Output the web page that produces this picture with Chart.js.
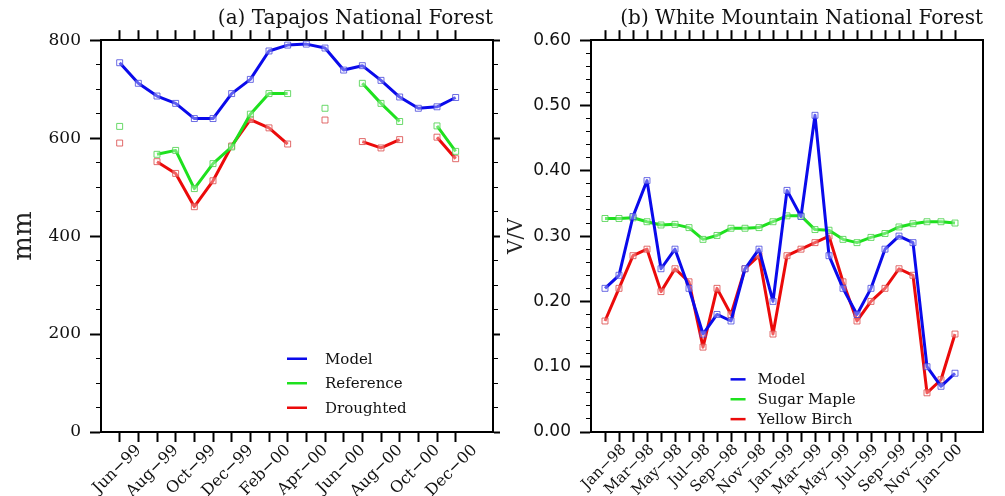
<!DOCTYPE html>
<html>
<head>
<meta charset="utf-8">
<script src="https://cdn.jsdelivr.net/npm/chart.js@4.4.0/dist/chart.umd.min.js"></script>
<style>
  html, body { margin: 0; padding: 0; background: #fff; }
  #wrap { position: relative; width: 1005px; height: 496px; overflow: hidden; }
  canvas { position: absolute; top: 0; }
  #chart-a { left: 0; }
  #chart-b { left: 495px; }
</style>
</head>
<body>
<div id="wrap">
  <canvas id="chart-a" width="505" height="496"></canvas>
  <canvas id="chart-b" width="510" height="496"></canvas>
</div>
<script>
// (a) Tapajos, monthly, mm
const monthsA = ['Jun-99', 'Jul-99', 'Aug-99', 'Sep-99', 'Oct-99', 'Nov-99', 'Dec-99', 'Jan-00', 'Feb-00', 'Mar-00',
  'Apr-00', 'May-00', 'Jun-00', 'Jul-00', 'Aug-00', 'Sep-00', 'Oct-00', 'Nov-00', 'Dec-00'];
const modelA = [754, 712, 686, 671, 640, 640, 691, 720, 778, 790, 792, 784, 739, 748, 718, 684, 661, 664, 683];
const referenceA = [624, null, 567, 575, 497, 548, 582, 649, 691, 691, null, 661, null, 712, 671, 634, null, 625, 573];
const droughtedA = [590, null, 552, 528, 460, 513, 584, 638, 621, 588, null, 637, null, 593, 580, 597, null, 602, 558];

// (b) White Mountain, monthly, V/V
const monthsB = ['Jan-98', 'Feb-98', 'Mar-98', 'Apr-98', 'May-98', 'Jun-98', 'Jul-98', 'Aug-98', 'Sep-98', 'Oct-98',
  'Nov-98', 'Dec-98', 'Jan-99', 'Feb-99', 'Mar-99', 'Apr-99', 'May-99', 'Jun-99', 'Jul-99', 'Aug-99',
  'Sep-99', 'Oct-99', 'Nov-99', 'Dec-99', 'Jan-00', 'Feb-00'];
const modelB = [0.22, 0.24, 0.33, 0.385, 0.25, 0.28, 0.22, 0.15, 0.18, 0.17, 0.25, 0.28, 0.20, 0.37, 0.33, 0.485,
  0.27, 0.22, 0.18, 0.22, 0.28, 0.30, 0.29, 0.10, 0.07, 0.09];
const mapleB = [0.327, 0.327, 0.328, 0.322, 0.317, 0.318, 0.313, 0.295, 0.301, 0.312, 0.312, 0.313, 0.322, 0.331,
  0.331, 0.310, 0.309, 0.295, 0.290, 0.298, 0.304, 0.314, 0.319, 0.322, 0.322, 0.320];
const birchB = [0.17, 0.22, 0.27, 0.28, 0.215, 0.25, 0.23, 0.13, 0.22, 0.18, 0.25, 0.27, 0.15, 0.27, 0.28, 0.29,
  0.30, 0.23, 0.17, 0.20, 0.22, 0.25, 0.24, 0.06, 0.08, 0.15];

const SERIF = '"DejaVu Serif", serif';
const SANS = '"DejaVu Sans", sans-serif';
const BLUE = 'rgb(10,10,235)';
const GREEN = 'rgb(30,225,30)';
const RED = 'rgb(235,10,10)';

const toPoints = values => values.map((v, i) => ({ x: i, y: v }));

const lineSet = (label, values, color, marker) => ({
  label: label,
  data: toPoints(values),
  borderColor: color,
  backgroundColor: color,
  borderWidth: 3,
  borderJoinStyle: 'round',
  tension: 0,
  spanGaps: false,
  pointStyle: 'rect',
  pointRadius: 4.2,
  pointHoverRadius: 4.2,
  pointBorderWidth: 1,
  pointBorderColor: marker,
  pointBackgroundColor: 'rgba(255,255,255,0.35)'
});

// legend drawn inside the plot, positions as fractions of the chart area
const boxLegend = {
  id: 'boxLegend',
  afterDraw(chart, args, opts) {
    const { ctx, chartArea: a } = chart;
    const x0 = a.left + opts.x * (a.right - a.left);
    let y = a.top + opts.y * (a.bottom - a.top);
    ctx.save();
    ctx.font = opts.font;
    ctx.textBaseline = 'middle';
    ctx.textAlign = 'left';
    chart.data.datasets.forEach(ds => {
      ctx.strokeStyle = ds.borderColor;
      ctx.lineWidth = 2.5;
      ctx.beginPath();
      ctx.moveTo(x0, y);
      ctx.lineTo(x0 + opts.len, y);
      ctx.stroke();
      ctx.fillStyle = '#111';
      ctx.fillText(ds.label, x0 + opts.len + opts.gap, y + 1);
      y += opts.step;
    });
    ctx.restore();
  }
};

function xAxis(months, fontSize, position) {
  const bottom = position === 'bottom';
  return {
    type: 'linear',
    position: position,
    min: -1,
    max: months.length + 1,
    afterBuildTicks: s => { s.ticks = months.map((m, i) => ({ value: i })); },
    afterFit: s => { s.height = bottom ? 64 : 9.2; },
    ticks: {
      display: bottom,
      autoSkip: false,
      minRotation: 45,
      maxRotation: 45,
      labelOffset: 19,
      padding: -1,
      color: '#111',
      font: { family: SERIF, size: fontSize },
      callback: (v, i) => (i % 2 === 0 ? months[v].replace('-', '\u2212') : '')
    },
    grid: { drawOnChartArea: false, tickLength: 10, tickWidth: 2, tickColor: '#000' },
    border: { display: true, width: 2, color: '#000' }
  };
}

function yAxis(o) {
  return {
    type: 'linear',
    position: 'left',
    min: o.min,
    max: o.max,
    afterFit: s => { s.width = o.width; },
    ticks: {
      stepSize: o.step,
      autoSkip: false,
      padding: 9,
      color: '#111',
      font: o.font,
      callback: v => (o.isMajor(v) ? o.fmt(v) : '')
    },
    grid: {
      drawOnChartArea: false,
      tickLength: 11,
      tickColor: '#000',
      tickWidth: c => (o.isMajor(c.tick.value) ? 2 : 1),
      tickBorderDash: c => (o.isMajor(c.tick.value) ? [] : [0, 6, 5, 40])
    },
    border: { width: 2, color: '#000' },
    title: {
      display: true,
      text: o.title,
      color: '#222',
      font: o.titleFont,
      padding: { top: o.titlePad, bottom: 0 }
    }
  };
}

function rightAxis(o) {
  return {
    type: 'linear',
    position: 'right',
    min: o.min,
    max: o.max,
    afterFit: s => { s.width = 0; },
    ticks: { display: false, stepSize: o.step },
    grid: {
      drawOnChartArea: false,
      drawTicks: o.ticks,
      tickLength: 7,
      tickColor: '#000',
      tickWidth: c => (o.isMajor(c.tick.value) ? 2 : 1),
      tickBorderDash: c => (o.isMajor(c.tick.value) ? [] : [4, 40])
    },
    border: { width: 2, color: '#000' }
  };
}

function titleOpts(text) {
  return {
    display: true,
    text: text,
    align: 'end',
    color: '#111',
    font: { family: SERIF, size: 20, weight: 'normal' },
    padding: { top: 7, bottom: 0 }
  };
}

const majorA = v => v % 200 === 0;
const majorB = v => Math.abs(v * 10 - Math.round(v * 10)) < 1e-6;

new Chart(document.getElementById('chart-a'), {
  type: 'line',
  data: {
    datasets: [
      lineSet('Model', modelA, BLUE, 'rgba(70,70,220,0.8)'),
      lineSet('Reference', referenceA, GREEN, 'rgba(80,210,80,0.85)'),
      lineSet('Droughted', droughtedA, RED, 'rgba(220,80,80,0.85)')
    ]
  },
  options: {
    responsive: false,
    animation: false,
    devicePixelRatio: 1,
    layout: { padding: { left: 0, right: 12, top: 0, bottom: 0 } },
    scales: {
      x: xAxis(monthsA, 16, 'bottom'),
      x2: xAxis(monthsA, 16, 'top'),
      y: yAxis({
        min: 0, max: 800, step: 50, width: 101,
        isMajor: majorA, fmt: v => String(v),
        font: { family: SERIF, size: 17 },
        title: 'mm', titleFont: { family: SERIF, size: 26 }, titlePad: 8.4
      }),
      y2: rightAxis({ min: 0, max: 800, step: 50, isMajor: majorA, ticks: true })
    },
    plugins: {
      legend: { display: false },
      tooltip: { enabled: false },
      title: titleOpts('(a) Tapajos National Forest'),
      boxLegend: { x: 0.4745, y: 0.813, step: 24.5, len: 20, gap: 18, font: '15px ' + SERIF }
    }
  },
  plugins: [boxLegend]
});

new Chart(document.getElementById('chart-b'), {
  type: 'line',
  data: {
    datasets: [
      lineSet('Model', modelB, BLUE, 'rgba(70,70,220,0.8)'),
      lineSet('Sugar Maple', mapleB, GREEN, 'rgba(80,210,80,0.85)'),
      lineSet('Yellow Birch', birchB, RED, 'rgba(220,80,80,0.85)')
    ]
  },
  options: {
    responsive: false,
    animation: false,
    devicePixelRatio: 1,
    layout: { padding: { left: 0, right: 22, top: 0, bottom: 0 } },
    scales: {
      x: xAxis(monthsB, 15, 'bottom'),
      x2: xAxis(monthsB, 15, 'top'),
      y: yAxis({
        min: 0, max: 0.6, step: 0.02, width: 96,
        isMajor: majorB, fmt: v => v.toFixed(2),
        font: { family: SANS, size: 17 },
        title: 'V/V', titleFont: { family: SERIF, size: 20 }, titlePad: 9.3
      }),
      y2: rightAxis({ min: 0, max: 0.6, step: 0.02, isMajor: majorB, ticks: false })
    },
    plugins: {
      legend: { display: false },
      tooltip: { enabled: false },
      title: titleOpts('(b) White Mountain National Forest'),
      boxLegend: { x: 0.356, y: 0.8656, step: 19.9, len: 15, gap: 12, font: '15px ' + SERIF }
    }
  },
  plugins: [boxLegend]
});
</script>
</body>
</html>
